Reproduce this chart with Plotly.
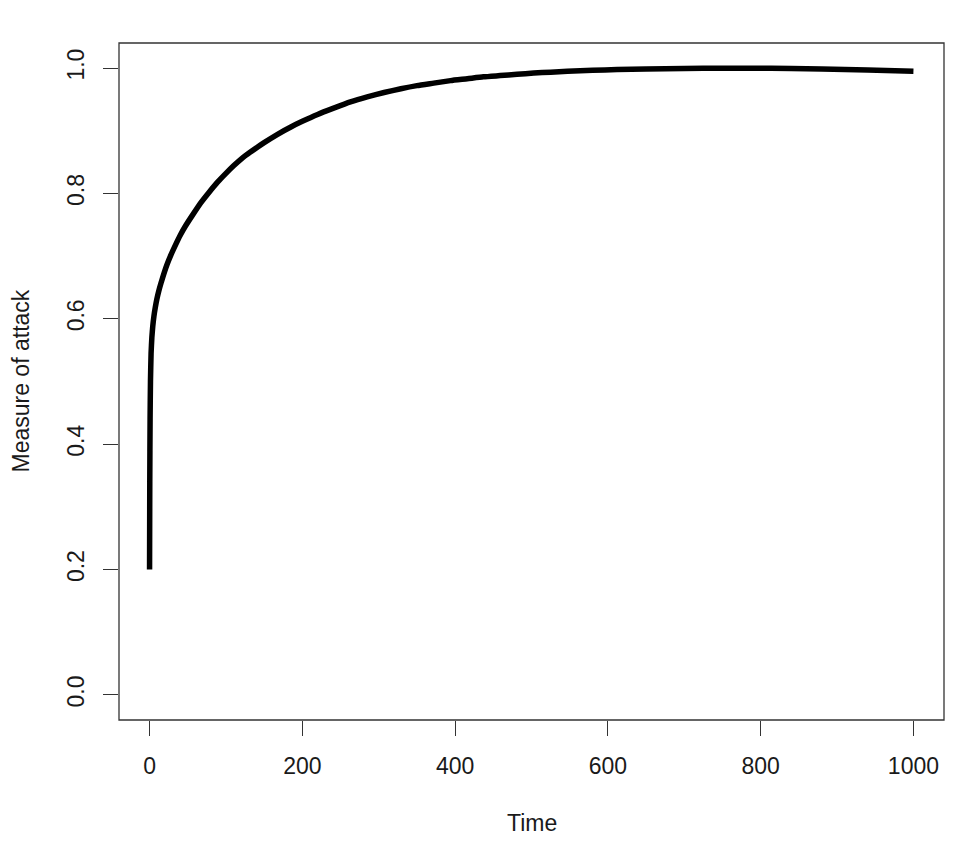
import plotly.graph_objs as go

"""
Measure of attack over time, single black curve in an R style box
"""

# values
time = [0, 0.3, 0.7, 1.2, 2, 3, 4.2, 5.7, 7.5, 9.5, 12, 15, 19, 23, 28, 34, 40,
        47, 56, 67, 78, 89, 100, 110, 121, 132, 150, 167, 185, 200, 220, 241,
        263, 285, 307, 329, 350, 372, 394, 416, 437, 459, 481, 503, 525, 547,
        580, 612, 650, 700, 750, 787, 840, 880, 940, 1000]
attack = [0.2, 0.34, 0.44, 0.5, 0.545, 0.57, 0.588, 0.604, 0.618, 0.631, 0.644,
          0.657, 0.673, 0.687, 0.702, 0.718, 0.733, 0.748, 0.765, 0.785, 0.802,
          0.818, 0.832, 0.844, 0.856, 0.866, 0.881, 0.894, 0.906, 0.915, 0.926,
          0.936, 0.946, 0.954, 0.961, 0.967, 0.972, 0.976, 0.98, 0.983, 0.986,
          0.988, 0.99, 0.992, 0.9935, 0.995, 0.9965, 0.9976, 0.9986, 0.9994,
          0.9998, 0.9998, 0.9993, 0.9985, 0.997, 0.995]

x_ticks = [0, 200, 400, 600, 800, 1000]
y_ticks = [0.0, 0.2, 0.4, 0.6, 0.8, 1.0]

font = dict(family="Liberation Sans, Arial, sans-serif", size=23, color="#1a1a1a")

fig = go.Figure(data=go.Scatter(x=time, y=attack, mode="lines",
                                line=dict(color="black", width=5.5,
                                          shape="spline", smoothing=0.5)))

axis_common = dict(showgrid=False, zeroline=False, showline=False,
                   ticks="outside", ticklen=15, tickwidth=1.2, tickcolor="#333",
                   tickfont=font, ticklabelstandoff=10)

fig.update_xaxes(range=[-40, 1040], tickvals=x_ticks, **axis_common)
fig.update_yaxes(range=[-0.04, 1.04], tickvals=y_ticks, tickformat=".1f",
                 tickangle=-90, **axis_common)

# page body has an 8px margin, so pull the plot area up/left by that much
fig.update_layout(
    width=964, height=844,
    margin=dict(l=111, r=28, t=35, b=132),
    plot_bgcolor="white", paper_bgcolor="white",
    showlegend=False,
    # box round the plot region
    shapes=[dict(type="rect", xref="paper", yref="paper", x0=0, y0=0, x1=1, y1=1,
                 line=dict(color="#333", width=1.3))],
    annotations=[
        dict(text="Time", xref="paper", yref="paper", x=0.5, y=0,
             xanchor="center", yanchor="middle", yshift=-103,
             showarrow=False, font=font),
        dict(text="Measure of attack", xref="paper", yref="paper", x=0, y=0.5,
             xanchor="center", yanchor="middle", xshift=-99, textangle=-90,
             showarrow=False, font=font),
    ],
)

fig.write_html("out.html")
